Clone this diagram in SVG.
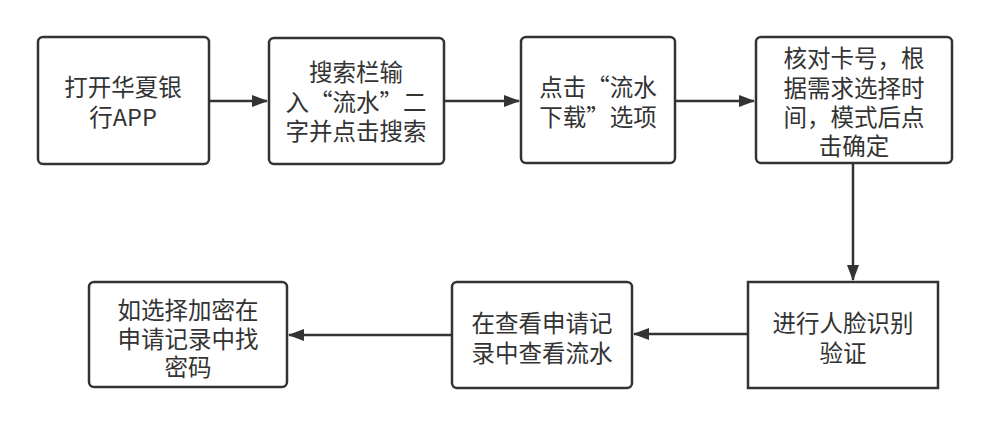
<svg xmlns="http://www.w3.org/2000/svg" width="988" height="424" viewBox="0 0 988 424">
<style>
.box{fill:#fff;stroke:#333;stroke-width:2.5}
.lbl{font-family:"Noto Sans CJK SC","Noto Sans",sans-serif;font-size:23.5px;fill:#333;text-anchor:middle;dominant-baseline:central}
.edge{stroke:#333;stroke-width:2.5;fill:none}
</style>
<defs>
<marker id="ah" viewBox="0 0 16 12" refX="15" refY="6" markerWidth="16" markerHeight="12" markerUnits="userSpaceOnUse" orient="auto">
<path d="M0,0 L16,6 L0,12 Z" fill="#333"/>
</marker>
</defs>
<rect width="988" height="424" fill="#fff"/>
<g id="connectors">
<line class="edge" x1="209" y1="101" x2="267" y2="101" marker-end="url(#ah)"/>
<line class="edge" x1="444" y1="101" x2="519" y2="101" marker-end="url(#ah)"/>
<line class="edge" x1="675" y1="101" x2="754" y2="101" marker-end="url(#ah)"/>
<line class="edge" x1="853" y1="163" x2="853" y2="280" marker-end="url(#ah)"/>
<line class="edge" x1="748" y1="334" x2="634" y2="334" marker-end="url(#ah)"/>
<line class="edge" x1="452" y1="335" x2="289" y2="335" marker-end="url(#ah)"/>
</g>
<g id="n1"><rect class="box" x="38" y="37" width="171" height="127" rx="5"/>
<text class="lbl" x="123" y="86">打开华夏银</text><text class="lbl" x="123" y="116">行APP</text></g>
<g id="n2"><rect class="box" x="269" y="38" width="175" height="126" rx="5"/>
<text class="lbl" x="356" y="71">搜索栏输</text><text class="lbl" x="356" y="101">入“流水”二</text><text class="lbl" x="356" y="130">字并点击搜索</text></g>
<g id="n3"><rect class="box" x="521" y="37" width="154" height="126" rx="5"/>
<text class="lbl" x="598" y="86">点击“流水</text><text class="lbl" x="598" y="116">下载”选项</text></g>
<g id="n4"><rect class="box" x="756" y="37" width="196" height="126" rx="5"/>
<text class="lbl" x="854" y="57">核对卡号，根</text><text class="lbl" x="854" y="87">据需求选择时</text><text class="lbl" x="854" y="116">间，模式后点</text><text class="lbl" x="854" y="145">击确定</text></g>
<g id="n5"><rect class="box" x="748" y="282" width="190" height="106"/>
<text class="lbl" x="843" y="322">进行人脸识别</text><text class="lbl" x="843" y="352">验证</text></g>
<g id="n6"><rect class="box" x="452" y="282" width="180" height="106" rx="5"/>
<text class="lbl" x="542" y="322">在查看申请记</text><text class="lbl" x="542" y="352">录中查看流水</text></g>
<g id="n7"><rect class="box" x="89" y="282" width="198" height="105" rx="5"/>
<text class="lbl" x="188" y="309">如选择加密在</text><text class="lbl" x="188" y="338">申请记录中找</text><text class="lbl" x="188" y="366">密码</text></g>
</svg>
